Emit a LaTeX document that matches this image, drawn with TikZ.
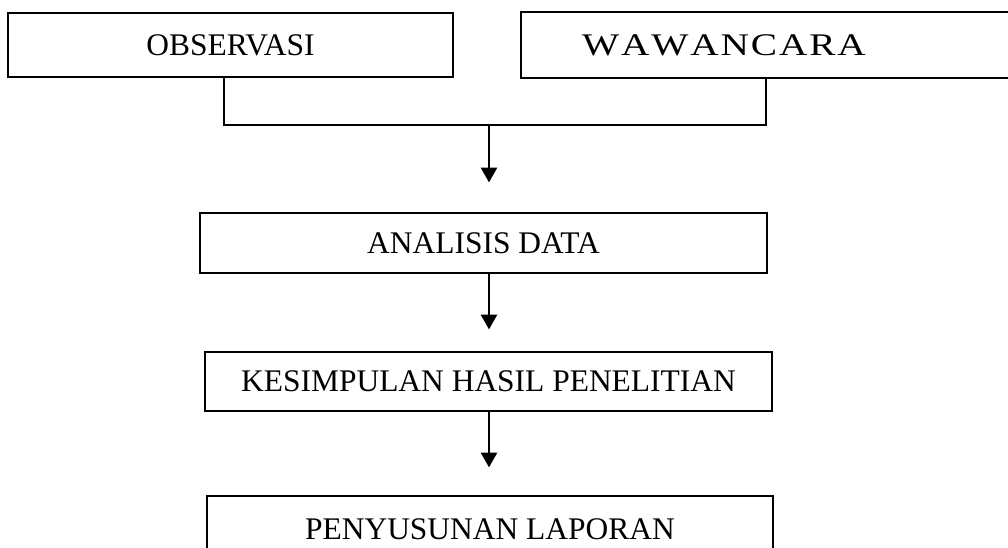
\documentclass[tikz,border=0pt]{standalone}
\usepackage{fontspec}
\setmainfont{Liberation Serif}
\usetikzlibrary{arrows.meta}

\begin{document}
\begin{tikzpicture}[x=0.75pt,y=-0.75pt,line width=1pt,
	box/.style={rectangle,draw,line width=0.9pt,inner sep=0pt,font=\fontsize{23.6}{28}\selectfont},
	arr/.style={-{Triangle[length=11pt,width=12pt]},line width=1.6pt}]
		\useasboundingbox (0,0) rectangle (1008,548);
		\clip (0,0) rectangle (1008,548);
		\node[box,minimum width=333.75pt,minimum height=48pt] (obs) at (230.5,45) {OBSERVASI};
		\node[box,text width=279.75pt,align=left,inner xsep=45.75pt,minimum height=49.5pt] (waw) at (768.5,45) {\addfontfeature{FakeStretch=1.25,Kerning=Off,LetterSpace=6}WAWANCARA};
		\node[box,minimum width=425.25pt,minimum height=45pt] (ana) at (483.5,243) {ANALISIS DATA};
		\node[box,minimum width=425.25pt,minimum height=44.25pt] (kes) at (488.5,381.5) {KESIMPULAN HASIL PENELITIAN};
		\node[box,minimum width=424.5pt,minimum height=49.5pt] (pen) at (490,529) {PENYUSUNAN LAPORAN};
		\coordinate (j) at (489,125);
		\draw ([xshift=-4.9pt]obs.south) |- (j) -| ([xshift=-1.9pt]waw.south);
		\draw[arr,shorten >=22.5pt] (j) -- (j |- ana.north);
		\draw[arr,shorten >=16.5pt] (ana.south -| j) -- (j |- kes.north);
		\draw[arr,shorten >=21pt] (kes.south -| j) -- (j |- pen.north);
	\end{tikzpicture}
\end{document}
